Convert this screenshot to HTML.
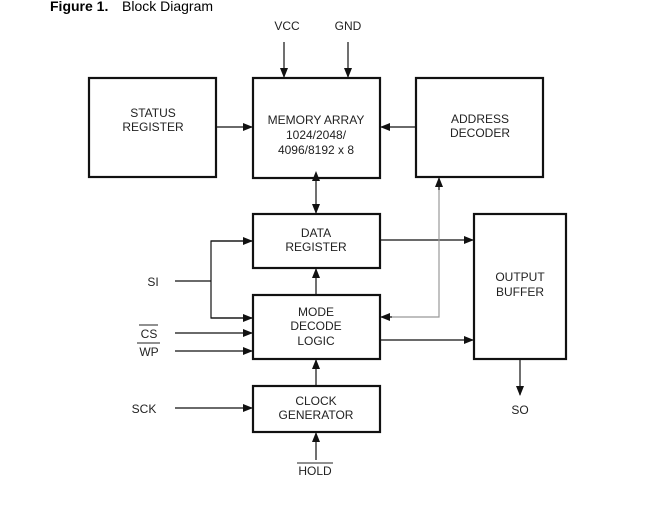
<!DOCTYPE html>
<html><head><meta charset="utf-8"><style>
html,body{margin:0;padding:0;background:#fff;}
svg text{font-family:"Liberation Sans",sans-serif;font-size:12px;fill:#222;}
</style></head><body>
<svg width="649" height="506" viewBox="0 0 649 506" xmlns="http://www.w3.org/2000/svg">
<defs>
<marker id="a" markerWidth="10" markerHeight="8" refX="9" refY="4" orient="auto" markerUnits="userSpaceOnUse"><path d="M0,0 L10,4 L0,8 z" fill="#111"/></marker>
<marker id="s" markerWidth="10" markerHeight="8" refX="1" refY="4" orient="auto-start-reverse" markerUnits="userSpaceOnUse"><path d="M0,0 L10,4 L0,8 z" fill="#111"/></marker>
</defs>
<text x="50" y="11" style="font-size:14px;font-weight:bold;fill:#000">Figure 1.</text>
<text x="122" y="11" style="font-size:14px;fill:#000">Block Diagram</text>
<g fill="none" stroke="#111" stroke-width="2.2">
<rect x="89" y="78" width="127" height="99"/>
<rect x="253" y="78" width="127" height="100"/>
<rect x="416" y="78" width="127" height="99"/>
<rect x="253" y="214" width="127" height="54"/>
<rect x="253" y="295" width="127" height="64"/>
<rect x="253" y="386" width="127" height="46"/>
<rect x="474" y="214" width="92" height="145"/>
</g>
<g stroke="#111" stroke-width="1.2" fill="none">
<line x1="284" y1="42" x2="284" y2="77" marker-end="url(#a)"/>
<line x1="348" y1="42" x2="348" y2="77" marker-end="url(#a)"/>
<line x1="217" y1="127" x2="252" y2="127" marker-end="url(#a)"/>
<line x1="415" y1="127" x2="381" y2="127" marker-end="url(#a)"/>
<line x1="316" y1="180" x2="316" y2="213" marker-end="url(#a)" marker-start="url(#s)"/>
<line x1="381" y1="240" x2="473" y2="240" marker-end="url(#a)"/>
<line x1="381" y1="340" x2="473" y2="340" marker-end="url(#a)"/>
<line x1="316" y1="295" x2="316" y2="269" marker-end="url(#a)"/>
<line x1="316" y1="386" x2="316" y2="360" marker-end="url(#a)"/>
<line x1="316" y1="460" x2="316" y2="433" marker-end="url(#a)"/>
<line x1="175" y1="281" x2="211" y2="281"/>
<polyline points="252,241 211,241 211,318 252,318"/>
<line x1="211" y1="241" x2="252" y2="241" marker-end="url(#a)"/>
<line x1="211" y1="318" x2="252" y2="318" marker-end="url(#a)"/>
<line x1="175" y1="333" x2="252" y2="333" marker-end="url(#a)"/>
<line x1="175" y1="351" x2="252" y2="351" marker-end="url(#a)"/>
<line x1="175" y1="408" x2="252" y2="408" marker-end="url(#a)"/>
<line x1="520" y1="360" x2="520" y2="395" marker-end="url(#a)"/>
<polyline points="439,179 439,317 390,317" stroke="#999"/>
<line x1="439" y1="190" x2="439" y2="178" marker-end="url(#a)"/>
<line x1="392" y1="317" x2="381" y2="317" marker-end="url(#a)"/>
</g>
<g text-anchor="middle">
<text x="287" y="30">VCC</text>
<text x="348" y="30">GND</text>
<text x="153" y="117">STATUS</text>
<text x="153" y="131">REGISTER</text>
<text x="316" y="124">MEMORY ARRAY</text>
<text x="316" y="139">1024/2048/</text>
<text x="316" y="154">4096/8192 x 8</text>
<text x="480" y="123">ADDRESS</text>
<text x="480" y="137">DECODER</text>
<text x="316" y="237">DATA</text>
<text x="316" y="251">REGISTER</text>
<text x="316" y="316">MODE</text>
<text x="316" y="330">DECODE</text>
<text x="316" y="345">LOGIC</text>
<text x="316" y="405">CLOCK</text>
<text x="316" y="419">GENERATOR</text>
<text x="520" y="281">OUTPUT</text>
<text x="520" y="296">BUFFER</text>
<text x="520" y="414">SO</text>
<text x="315" y="475">HOLD</text>
<text x="153" y="286">SI</text>
<text x="149" y="338">CS</text>
<text x="149" y="356">WP</text>
<text x="144" y="413">SCK</text>
</g>
<g stroke="#222" stroke-width="1">
<line x1="139" y1="325" x2="158" y2="325"/>
<line x1="137" y1="343" x2="160" y2="343"/>
<line x1="297" y1="463" x2="333" y2="463"/>
</g>
</svg>
</body></html>
